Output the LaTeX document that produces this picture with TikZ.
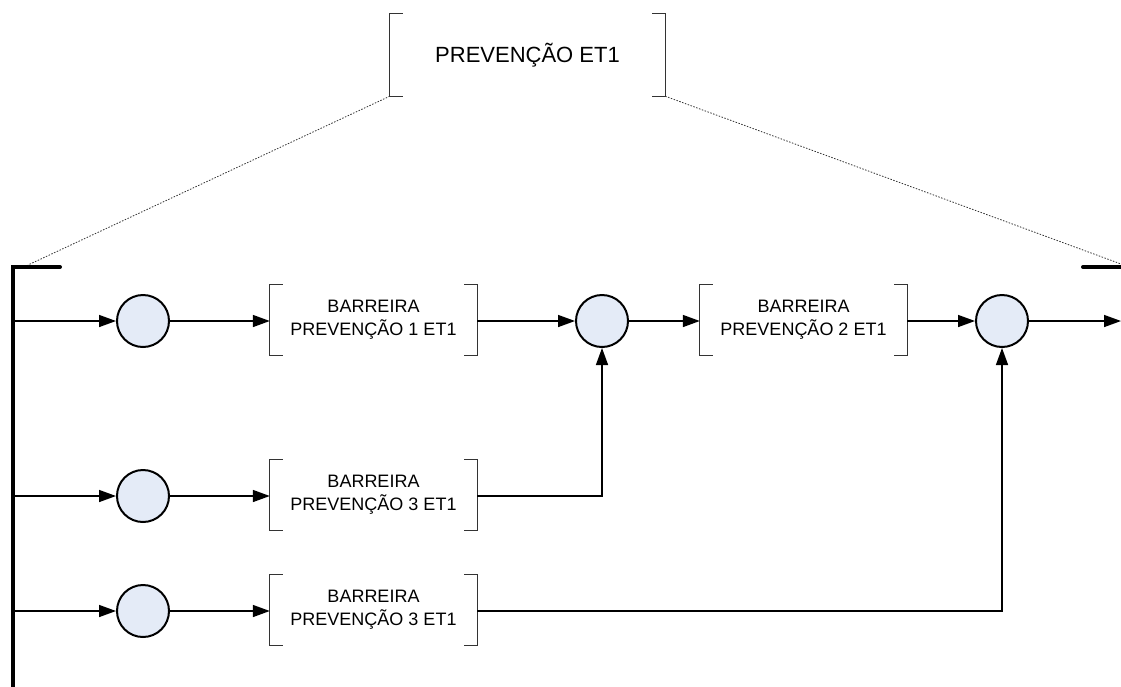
\documentclass[tikz,border=0pt]{standalone}
\usepackage{fontspec}
\setmainfont{Liberation Sans}
\usetikzlibrary{arrows.meta}
\definecolor{nodefill}{RGB}{228,235,247}
\begin{document}
\begin{tikzpicture}[x=1pt,y=-1pt,
  conn/.style={line width=1.5pt,draw=black},
  arr/.style={conn,-{Triangle[length=17pt,width=12pt]}},
  junction/.style={circle,draw=black,line width=2pt,fill=nodefill,minimum size=52pt,inner sep=0},
  barrier/.style={inner sep=0,minimum width=207pt,minimum height=70pt,align=center,
    font=\fontsize{18}{23}\selectfont},
  brline/.style={line width=1.3pt,draw=black!80},
  thick bar/.style={line width=4pt,draw=black,line cap=round},
  zoomline/.style={line width=0.8pt,draw=black!80,dash pattern=on 1.5pt off 1.5pt}]
\useasboundingbox (0,0) rectangle (1121,686);
\newcommand{\brackets}[1]{%
  \draw[brline] ([xshift=13pt]#1.north west) -- (#1.north west) -- (#1.south west) -- ([xshift=13pt]#1.south west);
  \draw[brline] ([xshift=-13pt]#1.north east) -- (#1.north east) -- (#1.south east) -- ([xshift=-13pt]#1.south east);}

% title block
\node[inner sep=0,minimum width=275pt,minimum height=82pt,font=\fontsize{22}{26}\selectfont] (title) at (527.5,55) {PREVENÇÃO ET1};
\brackets{title}

% bus bar and edge ticks
\coordinate (bartop) at (13,267);
\coordinate (barbot) at (13,690);
\coordinate (tickL) at (60,267);
\coordinate (tickR1) at (1083,267);
\coordinate (tickR2) at (1125,267);
\draw[thick bar] (tickL) -- (bartop) -- (barbot);
\draw[thick bar] (tickR1) -- (tickR2);

% zoom lines from the title block
\coordinate (zL) at (28,265);
\coordinate (zR) at (1121,264);
\draw[zoomline] (title.south west) -- (zL);
\draw[zoomline] (title.south east) -- (zR);

% junctions
\node[junction] (c1) at (143,321) {};
\node[junction] (c2) at (602,321) {};
\node[junction] (c3) at (1002,321) {};
\node[junction] (c4) at (143,496) {};
\node[junction] (c5) at (143,611) {};

% barriers
\node[barrier] (b1) at (373.5,320) {BARREIRA\\PREVENÇÃO 1 ET1};
\node[barrier] (b2) at (803.5,320) {BARREIRA\\PREVENÇÃO 2 ET1};
\node[barrier] (b3) at (373.5,495) {BARREIRA\\PREVENÇÃO 3 ET1};
\node[barrier] (b4) at (373.5,610) {BARREIRA\\PREVENÇÃO 3 ET1};
\brackets{b1}\brackets{b2}\brackets{b3}\brackets{b4}

% inputs from the bus bar
\coordinate (in1) at (13,321);
\coordinate (in4) at (13,496);
\coordinate (in5) at (13,611);
\coordinate (out) at (1121,321);
\draw[arr] (in1) -- (c1);
\draw[arr] (in4) -- (c4);
\draw[arr] (in5) -- (c5);

% main chain
\draw[arr] (c1) -- (b1.west |- c1);
\draw[arr] (b1.east |- c2) -- (c2);
\draw[arr] (c2) -- (b2.west |- c2);
\draw[arr] (b2.east |- c3) -- (c3);
\draw[arr] (c3) -- (out);

% side branches
\draw[arr] (c4) -- (b3.west |- c4);
\draw[arr] (c5) -- (b4.west |- c5);
\draw[arr] (b3.east |- c4) -| (c2.south);
\draw[arr] (b4.east |- c5) -| (c3.south);
\end{tikzpicture}
\end{document}
